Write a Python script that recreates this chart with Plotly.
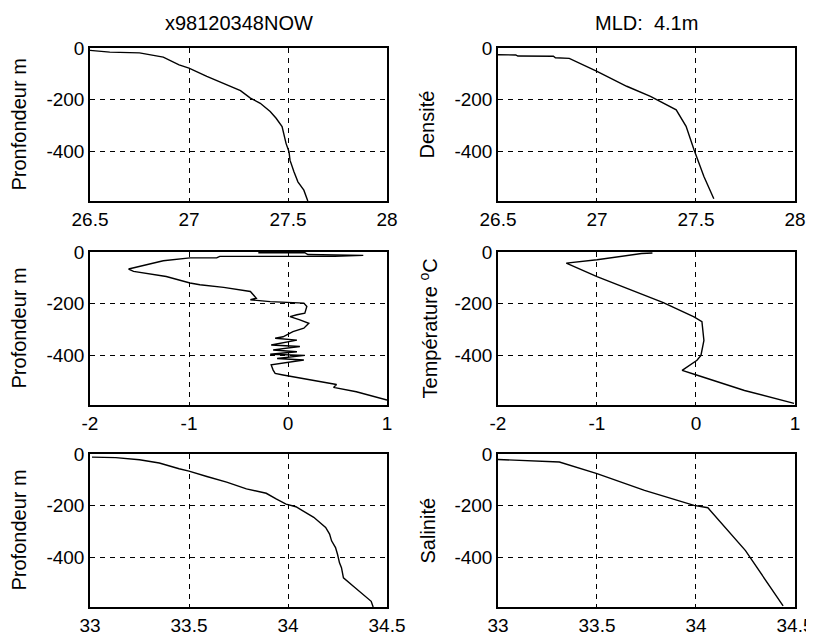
import plotly.graph_objects as go

# ---------------- data ----------------
depth_ticks = [0, -200, -400]
depth_ticktext = ["0", "-200", "-400"]

dens_ticks = [26.5, 27, 27.5, 28]
dens_ticktext = ["26.5", "27", "27.5", "28"]
temp_ticks = [-2, -1, 0, 1]
temp_ticktext = ["-2", "-1", "0", "1"]
sal_ticks = [33, 33.5, 34, 34.5]
sal_ticktext = ["33", "33.5", "34", "34.5"]

# raw density profile
dens_raw_x = [26.50, 26.60, 26.75, 26.87, 26.95, 27.00, 27.09, 27.19, 27.26, 27.31, 27.36, 27.41,
              27.44, 27.47, 27.48, 27.49, 27.505, 27.51, 27.53, 27.55, 27.58, 27.59, 27.60]
dens_raw_z = [-9, -16, -19, -35, -65, -78, -110, -143, -165, -194, -214, -246,
              -272, -304, -337, -369, -401, -434, -479, -518, -550, -570, -592]

# smoothed density profile
dens_s_x = [26.50, 26.59, 26.60, 26.78, 26.79, 26.86, 27.00, 27.15, 27.27, 27.40, 27.45, 27.49, 27.54, 27.59]
dens_s_z = [-26, -27, -31, -32, -38, -40, -90, -148, -187, -239, -303, -394, -497, -583]

# raw temperature profile
temp_raw_x = [-0.30, 0.17, 0.20, 0.76, 0.47, -0.69, -0.72, -0.99, -1.26, -1.36, -1.53, -1.61, -1.56,
              -1.39, -1.23, -0.99, -0.89, -0.65, -0.55, -0.38, -0.32, -0.38, -0.18, -0.01, 0.16,
              0.19, 0.17, 0.09, 0.02, 0.12, 0.21, 0.16, 0.05, -0.05, -0.13, 0.09, -0.17, 0.12,
              -0.15, 0.09, -0.18, 0.17, -0.11, 0.16, -0.17, -0.15, -0.13, -0.05, 0.12, 0.29,
              0.42, 0.49, 0.46, 0.69, 1.00]
temp_raw_z = [-3, -3, -10, -13, -17, -17, -23, -23, -34, -43, -56, -66, -75,
              -85, -95, -120, -127, -137, -142, -153, -179, -185, -192, -194, -198,
              -211, -237, -243, -250, -263, -276, -295, -308, -328, -334, -341, -360, -366,
              -379, -386, -396, -400, -412, -418, -437, -457, -470, -476, -487, -500,
              -508, -513, -524, -541, -573]

# smoothed temperature profile
temp_s_x = [-0.44, -0.55, -1.00, -1.31, -1.00, -0.33, -0.02, 0.06, 0.08, 0.05, 0.01, -0.14, -0.01, 0.49, 0.99]
temp_s_z = [-4, -6, -30, -43, -95, -196, -251, -270, -342, -400, -419, -458, -474, -536, -586]

# raw salinity profile
sal_raw_x = [33.01, 33.13, 33.25, 33.35, 33.45, 33.50, 33.59, 33.69, 33.79, 33.89, 33.94, 33.99, 34.04,
             34.13, 34.19, 34.21, 34.22, 34.24, 34.25, 34.26, 34.27, 34.28, 34.33, 34.38, 34.42, 34.43]
sal_raw_z = [-12, -14, -22, -35, -57, -66, -87, -109, -135, -152, -174, -194, -204,
             -245, -284, -310, -336, -362, -388, -421, -440, -479, -512, -544, -570, -592]

# smoothed salinity profile
sal_s_x = [33.00, 33.15, 33.31, 33.50, 33.74, 33.99, 34.06, 34.25, 34.44]
sal_s_z = [-21, -27, -31, -76, -141, -199, -208, -374, -588]

title_left = "x98120348NOW"
title_right = "MLD:  4.1m"
ylabels = ["Pronfondeur m", "Densité", "Profondeur m", "Température <sup>o</sup>C", "Profondeur m", "Salinité"]

# ---------------- figure ----------------
FONT = "Liberation Sans, Arial, Helvetica, sans-serif"
fig = go.Figure()

col_dom = [[0, 0.4213], [0.5787, 1.0]]
row_dom = [[0.7263, 1.0], [0.3614, 0.6351], [0.0, 0.2737]]

series = [
    (dens_raw_x, dens_raw_z), (dens_s_x, dens_s_z),
    (temp_raw_x, temp_raw_z), (temp_s_x, temp_s_z),
    (sal_raw_x, sal_raw_z), (sal_s_x, sal_s_z),
]
xinfo = [
    ([26.5, 28], dens_ticks, dens_ticktext),
    ([-2, 1], temp_ticks, temp_ticktext),
    ([33, 34.5], sal_ticks, sal_ticktext),
]

for i, (xs, zs) in enumerate(series):
    r, c = divmod(i, 2)
    n = i + 1
    xa = "x" if n == 1 else f"x{n}"
    ya = "y" if n == 1 else f"y{n}"
    fig.add_trace(go.Scatter(x=xs, y=zs, mode="lines", xaxis=xa, yaxis=ya,
                             line=dict(color="black", width=1.4), showlegend=False,
                             cliponaxis=True))
    rng, tv, tt = xinfo[r]
    axis_common = dict(showline=True, mirror=True, linecolor="black", linewidth=1.5,
                       showgrid=True, gridcolor="black", gridwidth=1, griddash="5px,5px",
                       zeroline=False, ticks="", automargin=False,
                       tickfont=dict(family=FONT, size=19, color="black"))
    fig.layout[("xaxis" if n == 1 else f"xaxis{n}")] = dict(
        domain=col_dom[c], anchor=ya, range=rng, tickvals=tv, ticktext=tt, **axis_common)
    fig.layout[("yaxis" if n == 1 else f"yaxis{n}")] = dict(
        domain=row_dom[r], anchor=xa, range=[-592, 0], tickvals=depth_ticks, ticktext=depth_ticktext,
        **axis_common)
    fig.add_annotation(text=ylabels[i], xref="paper", yref="paper",
                       x=col_dom[c][0], y=(row_dom[r][0] + row_dom[r][1]) / 2,
                       xanchor="center", yanchor="middle", xshift=-71 if c == 0 else -70,
                       textangle=-90, showarrow=False,
                       font=dict(family=FONT, size=20, color="black"))

for txt, c in [(title_left, 0), (title_right, 1)]:
    fig.add_annotation(text=txt, xref="paper", yref="paper",
                       x=(col_dom[c][0] + col_dom[c][1]) / 2, y=1, xanchor="center", yanchor="middle",
                       yshift=25, showarrow=False, font=dict(family=FONT, size=20, color="black"))

# the page body adds an 8px offset, so the figure is 8px smaller and margins shifted
fig.update_layout(width=806, height=628, margin=dict(l=82, r=19, t=40, b=29, autoexpand=False),
                  paper_bgcolor="white", plot_bgcolor="white")

fig.write_html("out.html")
